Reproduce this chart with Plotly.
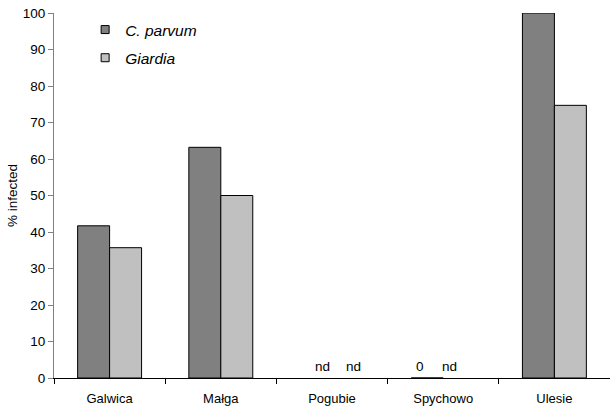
import plotly.graph_objects as go

categories = ["Galwica", "Małga", "Pogubie", "Spychowo", "Ulesie"]
c_parvum = [41.7, 63.2, None, 0, 100.0]
giardia = [35.7, 50.0, None, None, 74.7]
c_parvum_labels = ["", "", "nd", "0", ""]
giardia_labels = ["", "", "nd", "nd", ""]
y_ticks = [0, 10, 20, 30, 40, 50, 60, 70, 80, 90, 100]

FONT = "Liberation Sans, Arial, sans-serif"
DARK = "#808080"
LIGHT = "#C0C0C0"

fig = go.Figure()
fig.add_trace(go.Bar(x=categories, y=c_parvum, name="C. parvum", showlegend=False,
                     marker=dict(color=DARK, line=dict(color="#000000", width=1))))
fig.add_trace(go.Bar(x=categories, y=giardia, name="Giardia", showlegend=False,
                     marker=dict(color=LIGHT, line=dict(color="#000000", width=1))))
# legend entries
fig.add_trace(go.Scatter(x=[None], y=[None], mode="markers", name="<i>C. parvum</i>",
                         legendgroup="a",
                         marker=dict(symbol="square", size=8, color=DARK,
                                     line=dict(color="#000000", width=1))))
fig.add_trace(go.Scatter(x=[None], y=[None], mode="markers", name="<i>Giardia</i>",
                         legendgroup="b",
                         marker=dict(symbol="square", size=8, color=LIGHT,
                                     line=dict(color="#000000", width=1))))

# small label offsets (px) as placed in the original chart
dark_shift = {"Pogubie": -10, "Spychowo": -23}
light_shift = {"Pogubie": 21, "Spychowo": 6}
for cat, lab in zip(categories, c_parvum_labels):
    if lab:
        fig.add_annotation(x=cat, y=0, text=lab, showarrow=False, xshift=dark_shift[cat],
                           yanchor="bottom", yshift=2, font=dict(size=13.5, color="#000"))
for cat, lab in zip(categories, giardia_labels):
    if lab:
        fig.add_annotation(x=cat, y=0, text=lab, showarrow=False, xshift=light_shift[cat],
                           yanchor="bottom", yshift=2, font=dict(size=13.5, color="#000"))

fig.update_layout(
    width=610, height=412,
    margin=dict(l=54, r=0, t=13, b=34),
    paper_bgcolor="white", plot_bgcolor="white",
    font=dict(family=FONT, size=13, color="#000"),
    barmode="group", bargap=0.425, bargroupgap=0,
    legend=dict(x=0.056, y=1.0, xanchor="left", yanchor="top",
                bgcolor="rgba(0,0,0,0)", tracegroupgap=5,
                traceorder="grouped", font=dict(size=15.5)),
    xaxis=dict(range=[-0.5, 4.5], showline=True, linecolor="#000", linewidth=1,
               ticks="outside", tickson="boundaries", ticklen=5, tickcolor="#000",
               showgrid=False, zeroline=False, ticklabelstandoff=8),
    yaxis=dict(range=[0, 100], tickvals=y_ticks, showline=True, linecolor="#808080",
               linewidth=1, ticks="outside", ticklen=5, tickcolor="#808080",
               showgrid=False, zeroline=False, tickfont=dict(size=13.5),
               title=dict(text="% infected", standoff=2, font=dict(size=13.5))),
)

fig.write_html("out.html", config={"displayModeBar": False},
               post_script="document.body.style.margin='0';document.body.style.padding='0';")
